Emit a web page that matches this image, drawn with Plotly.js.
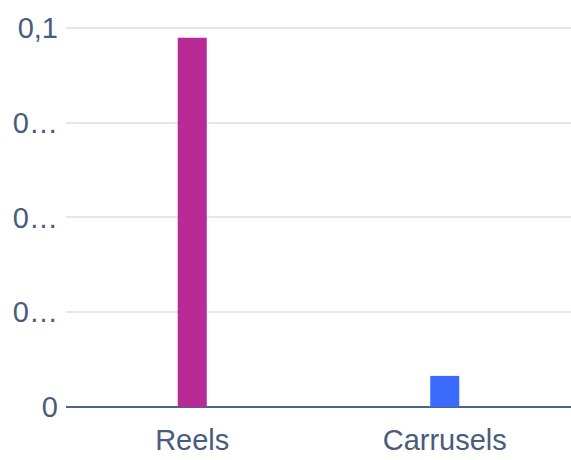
<!DOCTYPE html>
<html>
<head>
<meta charset="utf-8">
<script src="https://cdn.plot.ly/plotly-3.0.1.min.js"></script>
<style>html,body{margin:0;padding:0;background:#fff}#chart{width:571px;height:460px}</style>
</head>
<body>
<div id="chart"></div>
<script>
var categories = ["Reels", "Carrusels"];
var values = [0.0974, 0.0082];
var barColors = ["#b82a96", "#3b6bfd"];
var tickVals = [0, 0.025, 0.05, 0.075, 0.1];
var tickText = ["0", "0\u2026", "0\u2026", "0\u2026", "0,1"];

Plotly.newPlot("chart", [{
  type: "bar",
  x: categories,
  y: values,
  width: 0.115,
  marker: {color: barColors},
  hoverinfo: "none"
}], {
  width: 571, height: 460,
  margin: {l: 66, r: 0, t: 26, b: 53},
  paper_bgcolor: "#fff", plot_bgcolor: "#fff",
  font: {family: "Liberation Sans, Arial, sans-serif", size: 29, color: "#485c7e"},
  showlegend: false,
  xaxis: {range: [-0.5, 1.5], showgrid: false, showline: false, ticks: "", ticklabelstandoff: 13,
          tickfont: {size: 29, color: "#485c7e"}},
  yaxis: {range: [0, 0.1005], tickmode: "array", tickvals: tickVals, ticktext: tickText,
          showgrid: true, gridcolor: "#e3e6ee", gridwidth: 2,
          zeroline: true, zerolinecolor: "#4f6385", zerolinewidth: 2,
          ticks: "", ticklabelstandoff: 7, tickfont: {size: 29, color: "#485c7e"}}
}, {displayModeBar: false, staticPlot: true});
</script>
</body>
</html>
